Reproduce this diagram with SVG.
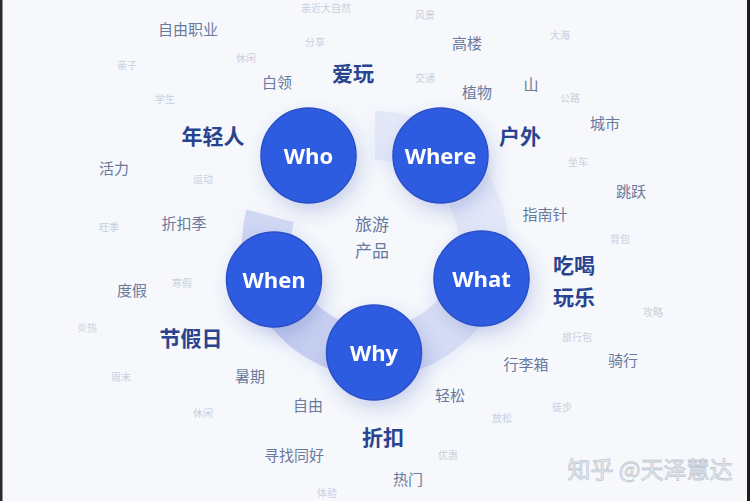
<svg xmlns="http://www.w3.org/2000/svg" width="750" height="501" viewBox="0 0 750 501">
<defs>
<style>
text{font-family:"Noto Sans CJK SC","Noto Sans",sans-serif;text-anchor:middle}
.big{font-size:21px;font-weight:700;fill:#29438f}
.mid{font-size:15px;fill:#6a7a9c}
.faint{font-size:10px;fill:#c9d0dc}
.node circle{fill:#2f5be1;stroke:#2a4fc6;stroke-width:1.5}
.node text{font-family:"Open Sans","Noto Sans",sans-serif;font-size:22px;font-weight:700;fill:#ffffff}
.center{font-size:17px;fill:#6a7a9c}
</style>
<linearGradient id="ringGrad" gradientUnits="userSpaceOnUse" x1="470" y1="120" x2="270" y2="340">
<stop offset="0" stop-color="#e8ecf9"/>
<stop offset="0.5" stop-color="#dbe1f6"/>
<stop offset="1" stop-color="#c2cbef"/>
</linearGradient>
<filter id="shadow" x="-50%" y="-50%" width="200%" height="200%">
<feDropShadow dx="4" dy="8" stdDeviation="9" flood-color="#3050b0" flood-opacity="0.22"/>
</filter>
<filter id="glow" x="-30%" y="-30%" width="160%" height="160%">
<feDropShadow dx="0" dy="4" stdDeviation="8" flood-color="#7f93d6" flood-opacity="0.15"/>
</filter>
</defs>
<rect x="0" y="0" width="750" height="501" fill="#f6f8fc"/>
<rect x="0" y="0" width="2.5" height="501" fill="#2a2a2a"/>
<rect x="747" y="0" width="3" height="501" fill="#1e1e1e"/>

<g id="ring" filter="url(#glow)">
<path d="M375,111 A133,133 0 1 1 246.5,209.6 L293.9,222.3 A84,84 0 1 0 375,160 Z" fill="url(#ringGrad)"/>
</g>

<g id="center-label">
<text class="center" x="372" y="231">旅游</text>
<text class="center" x="372" y="257">产品</text>
</g>

<g id="connectors"></g>

<g id="node-who" class="node" filter="url(#shadow)">
<circle cx="308.5" cy="155.5" r="47.5"/>
<text x="308.5" y="163.5">Who</text>
</g>
<g id="node-where" class="node" filter="url(#shadow)">
<circle cx="440.5" cy="155.5" r="47.5"/>
<text x="440.5" y="163.5">Where</text>
</g>
<g id="node-what" class="node" filter="url(#shadow)">
<circle cx="481.5" cy="278.5" r="47.5"/>
<text x="481.5" y="286.5">What</text>
</g>
<g id="node-why" class="node" filter="url(#shadow)">
<circle cx="374" cy="352.5" r="47.5"/>
<text x="374" y="360.5">Why</text>
</g>
<g id="node-when" class="node" filter="url(#shadow)">
<circle cx="274" cy="279.5" r="47.5"/>
<text x="274" y="287.5">When</text>
</g>

<g id="keywords-big">
<text class="big" x="353" y="81">爱玩</text>
<text class="big" x="213" y="144">年轻人</text>
<text class="big" x="520" y="144">户外</text>
<text class="big" x="574" y="273">吃喝</text>
<text class="big" x="574" y="305">玩乐</text>
<text class="big" x="191" y="346">节假日</text>
<text class="big" x="383" y="445">折扣</text>
</g>

<g id="keywords-mid">
<text class="mid" x="188" y="35">自由职业</text>
<text class="mid" x="277" y="88">白领</text>
<text class="mid" x="467" y="49">高楼</text>
<text class="mid" x="477" y="98">植物</text>
<text class="mid" x="531" y="90">山</text>
<text class="mid" x="605" y="129">城市</text>
<text class="mid" x="114" y="174">活力</text>
<text class="mid" x="184" y="229">折扣季</text>
<text class="mid" x="631" y="197">跳跃</text>
<text class="mid" x="545" y="220">指南针</text>
<text class="mid" x="132" y="296">度假</text>
<text class="mid" x="250" y="382">暑期</text>
<text class="mid" x="308" y="411">自由</text>
<text class="mid" x="294" y="461">寻找同好</text>
<text class="mid" x="450" y="401">轻松</text>
<text class="mid" x="526" y="370">行李箱</text>
<text class="mid" x="623" y="366">骑行</text>
<text class="mid" x="408" y="485">热门</text>
</g>

<g id="keywords-faint">
<text class="faint" x="326" y="12">亲近大自然</text>
<text class="faint" x="315" y="46">分享</text>
<text class="faint" x="246" y="62">休闲</text>
<text class="faint" x="127" y="69">亲子</text>
<text class="faint" x="165" y="103">学生</text>
<text class="faint" x="203" y="183">运动</text>
<text class="faint" x="109" y="231">旺季</text>
<text class="faint" x="425" y="19">风景</text>
<text class="faint" x="560" y="39">大海</text>
<text class="faint" x="425" y="82">交通</text>
<text class="faint" x="570" y="102">公路</text>
<text class="faint" x="578" y="166">坐车</text>
<text class="faint" x="620" y="243">背包</text>
<text class="faint" x="182" y="287">寒假</text>
<text class="faint" x="87" y="332">炎热</text>
<text class="faint" x="121" y="381">周末</text>
<text class="faint" x="203" y="417">休闲</text>
<text class="faint" x="327" y="497">体验</text>
<text class="faint" x="653" y="316">攻略</text>
<text class="faint" x="577" y="341">旅行包</text>
<text class="faint" x="562" y="411">徒步</text>
<text class="faint" x="502" y="422">放松</text>
<text class="faint" x="448" y="459">优惠</text>
</g>

<g id="watermark">
<text x="650" y="478" style="font-size:23px;fill:#f0f2f6;stroke:#c2c8d3;stroke-width:0.8">知乎 @天泽慧达</text>
</g>
</svg>
